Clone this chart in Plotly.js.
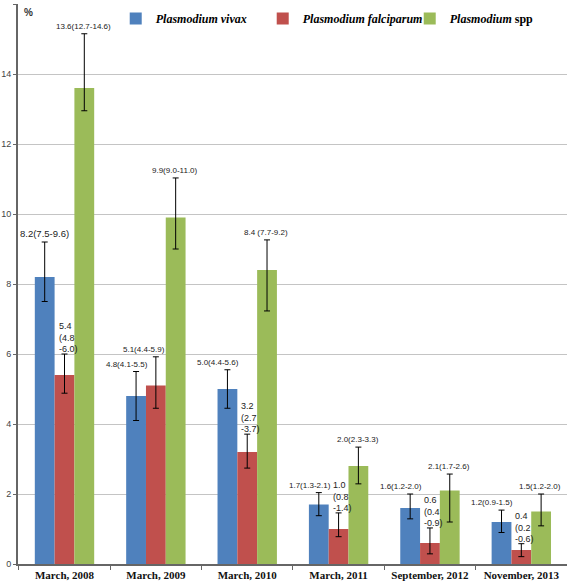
<!DOCTYPE html>
<html><head><meta charset="utf-8">
<script src="https://cdn.plot.ly/plotly-3.0.1.min.js"></script>
<style>body{margin:0;background:#fff}#chart{width:567px;height:581px}</style>
</head><body><div id="chart"></div>
<script>
const categories = ['March, 2008','March, 2009','March, 2010','March, 2011','September, 2012','November, 2013'];
const seriesNames = ['<b><i>Plasmodium vivax</i></b>','<b><i>Plasmodium falciparum</i></b>','<b><i>Plasmodium</i> spp</b>'];
const vivax   = [8.2, 4.8, 5.0, 1.7, 1.6, 1.2];
const vivaxLo = [7.5, 4.1, 4.45, 1.38, 1.29, 0.9];
const vivaxHi = [9.2, 5.5, 5.55, 2.04, 2.0, 1.54];
const falc    = [5.4, 5.1, 3.2, 1.0, 0.6, 0.4];
const falcLo  = [4.88, 4.45, 2.74, 0.78, 0.29, 0.21];
const falcHi  = [6.0, 5.92, 3.71, 1.46, 1.03, 0.58];
const spp     = [13.6, 9.9, 8.4, 2.8, 2.1, 1.5];
const sppLo   = [12.95, 9.0, 7.23, 2.29, 1.2, 1.09];
const sppHi   = [15.15, 11.03, 9.26, 3.34, 2.57, 2.0];
const vivaxLabels = ['8.2(7.5-9.6)','4.8(4.1-5.5)','5.0(4.4-5.6)','1.7(1.3-2.1)','1.6(1.2-2.0)','1.2(0.9-1.5)'];
const falcLabels  = ['5.4<br>(4.8<br>-6.0)','5.1(4.4-5.9)','3.2<br>(2.7<br>-3.7)','1.0<br>(0.8<br>-1.4)','0.6<br>(0.4<br>-0.9)','0.4<br>(0.2<br>-0.6)'];
const sppLabels   = ['13.6(12.7-14.6)','9.9(9.0-11.0)','8.4 (7.7-9.2)','2.0(2.3-3.3)','2.1(1.7-2.6)','1.5(1.2-2.0)'];
const yTicks = [0,2,4,6,8,10,12,14,16];

const colors = ['#4F81BD','#C0504D','#9BBB59'];
function mk(name, vals, lo, hi, color){
  return {type:'bar', name:name, x:categories, y:vals,
    marker:{color:color, line:{color:color, width:0}},
    error_y:{type:'data', symmetric:false,
      array: hi.map((h,i)=>h-vals[i]), arrayminus: lo.map((l,i)=>vals[i]-l),
      color:'#000', thickness:1, width:3}};
}
const data = [
  mk(seriesNames[0], vivax, vivaxLo, vivaxHi, colors[0]),
  mk(seriesNames[1], falc, falcLo, falcHi, colors[1]),
  mk(seriesNames[2], spp, sppLo, sppHi, colors[2])
];

const LF = 'Liberation Sans, Arial';
const ann = [];
const lblFont = {family:LF, size:8, color:'#222'};
categories.forEach((c,i)=>{
  ann.push({x:c, y:vivaxHi[i], xref:'x', yref:'y', text:vivaxLabels[i], showarrow:false,
    xanchor:'center', yanchor:'bottom', xshift: i===0 ? -20 : -29, yshift:1,
    font: i===0 ? {family:LF, size:9.5, color:'#222'} : lblFont});
  const multi = falcLabels[i].indexOf('<br>')>=0;
  ann.push({x:c, y:falcHi[i], xref:'x', yref:'y', text:falcLabels[i], showarrow:false,
    xanchor: multi ? 'left' : 'center', align:'left', yanchor:'bottom',
    xshift: multi ? -8 : -12, yshift: multi ? -2 : 1,
    font: multi ? {family:LF, size:9, color:'#222'} : lblFont});
  ann.push({x:c, y:sppHi[i], xref:'x', yref:'y', text:sppLabels[i], showarrow:false,
    xanchor:'center', yanchor:'bottom', xshift: 19, yshift:1, font:lblFont});
});
ann.push({x:(28-18)/549, y:1, xref:'paper', yref:'paper', text:'<b>%</b>', showarrow:false,
  xanchor:'center', yanchor:'top', yshift:-1,
  font:{family:'Liberation Sans, Arial', size:10, color:'#333'}});

const layout = {
  width:567, height:581,
  margin:{l:18, r:0, t:4, b:17},
  paper_bgcolor:'#fff', plot_bgcolor:'#fff',
  barmode:'group', bargap:0.35, bargroupgap:0,
  showlegend:true,
  legend:{orientation:'h', x:0.178, xanchor:'left', y:1, yanchor:'top',
    bgcolor:'rgba(0,0,0,0)', font:{family:'Liberation Serif, Times New Roman', size:12, color:'#000'},
    entrywidth:102, entrywidthmode:'pixels', traceorder:'normal'},
  xaxis:{type:'category', tickvals:categories, ticktext:categories.map(c=>'<b>'+c+'</b>'),
    tickfont:{family:'Liberation Serif, Times New Roman', size:11, color:'#111'},
    showline:true, linecolor:'#666', linewidth:1.5, ticks:'outside', tickson:'boundaries',
    ticklen:4, tickcolor:'#666', showgrid:false, zeroline:false, automargin:false},
  yaxis:{range:[0,16], tickvals:yTicks, ticktext:yTicks.map(String),
    tickfont:{family:'Liberation Sans, Arial', size:9, color:'#444'},
    showline:true, linecolor:'#666', linewidth:2, ticks:'outside', ticklen:3, tickcolor:'#666',
    ticklabelstandoff:0,
    showgrid:true, gridcolor:'#c4c4c4', gridwidth:1, zeroline:false, automargin:false},
  annotations: ann
};
Plotly.newPlot('chart', data, layout, {displayModeBar:false, staticPlot:true});
</script></body></html>
